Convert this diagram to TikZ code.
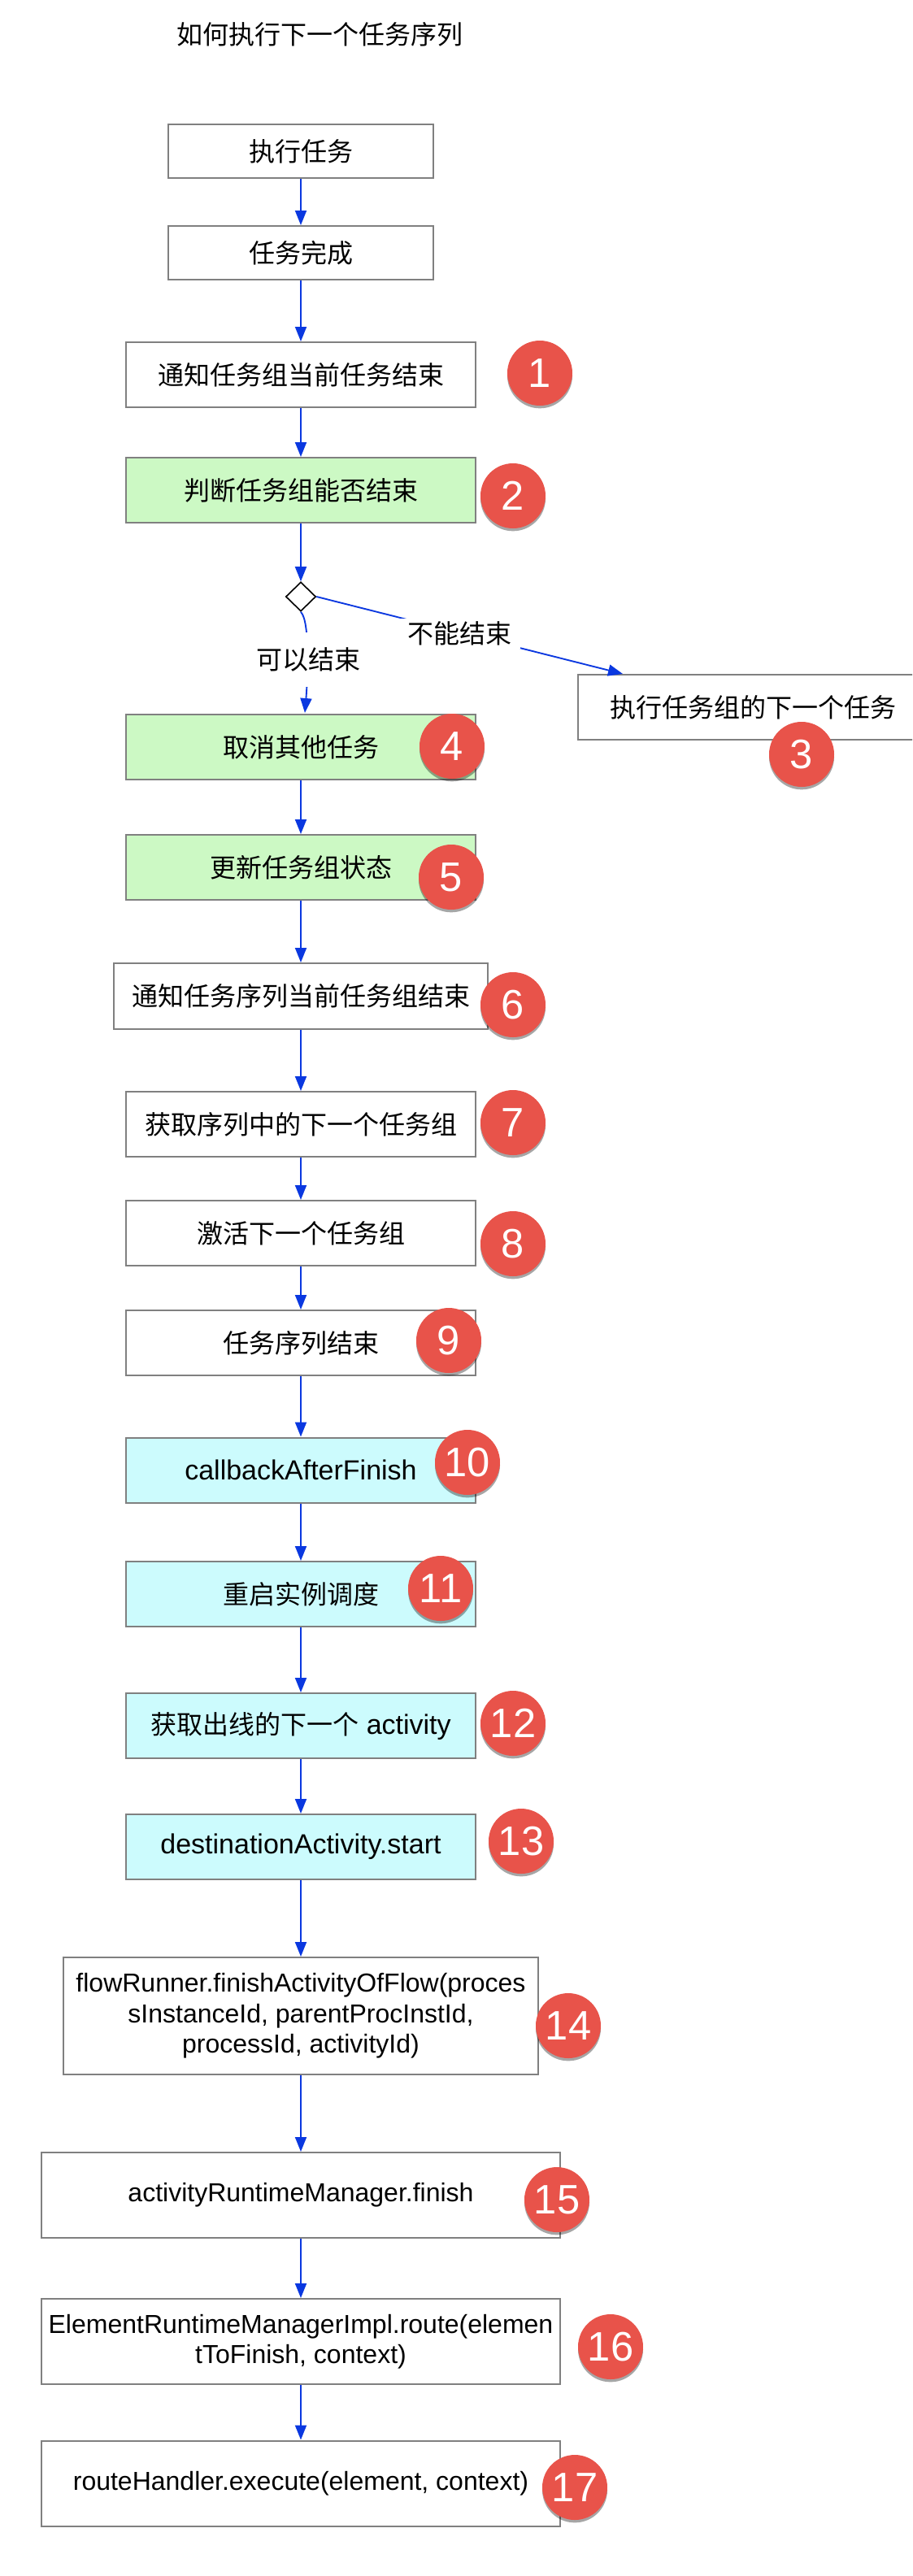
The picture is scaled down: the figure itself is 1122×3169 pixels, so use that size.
\documentclass[tikz,border=0pt]{standalone}
\usepackage{fontspec}
\usepackage{color}
\usepackage{tikz}
\usetikzlibrary{arrows.meta,shapes.geometric,shadows}
\setmainfont{Liberation Sans}
\newfontfamily\cjk{Noto Sans CJK SC}
\def\px{0.75pt}
\definecolor{boxgray}{HTML}{808080}
\definecolor{flowblue}{HTML}{0A38E0}
\definecolor{badgered}{HTML}{E8534A}
\definecolor{okgreen}{HTML}{CCF9C4}
\definecolor{runcyan}{HTML}{CCFBFD}
\tikzset{
	bodytext/.style={font=\fontsize{24pt}{28.2pt}\selectfont, align=center, inner sep=0pt},
	widetext/.style={font=\fontsize{25.5pt}{28.2pt}\selectfont},
	taskbox/.style 2 args={bodytext, draw=boxgray, line width=1.5pt,
		minimum width=#1*\px, minimum height=#2*\px},
	greenbox/.style={fill=okgreen},
	cyanbox/.style={fill=runcyan},
	flow/.style={draw=flowblue, line width=1.4pt,
		-{Triangle[length=13.5pt,width=10.5pt,fill=flowblue]}},
	gaplabel/.style 2 args={bodytext, fill=white,
		minimum width=#1*\px, minimum height=#2*\px},
	badge/.style={circle, fill=badgered, text=white, inner sep=0pt,
		minimum size=80*\px, font=\fontsize{38pt}{38pt}\selectfont,
		drop shadow={shadow xshift=0pt, shadow yshift=-2.5pt, fill=black, opacity=0.35}}
}

\begin{document}
\begin{tikzpicture}[x=0.75pt,y=-0.75pt]
	\path[use as bounding box, clip] (0,0) rectangle (1122,3169);
	\fill[white] (0,0) rectangle (1122,3169);

	\node (title) at (393,42) [bodytext] {\cjk 如何执行下一个任务序列};

	\node (run) at (370,186) [taskbox={326}{66}] {\cjk 执行任务};
	\node (done) at (370,311) [taskbox={326}{66}] {\cjk 任务完成};
	\node (notify) at (370,461) [taskbox={430}{80}] {\cjk 通知任务组当前任务结束};
	\node (judge) at (370,603) [taskbox={430}{80}, greenbox] {\cjk 判断任务组能否结束};
	\node (gate) at (370,734) [diamond, draw=black, line width=1.2pt, fill=white, inner sep=0pt,
		minimum width=37*\px, minimum height=36*\px] {};
	\node (skip) at (926,870) [taskbox={430}{80}] {\cjk 执行任务组的下一个任务};
	\node (cancel) at (370,919) [taskbox={430}{80}, greenbox] {\cjk 取消其他任务};
	\node (update) at (370,1067) [taskbox={430}{80}, greenbox] {\cjk 更新任务组状态};
	\node (notifyseq) at (370,1225.5) [taskbox={460}{81}] {\cjk 通知任务序列当前任务组结束};
	\node (nextgroup) at (370,1383) [taskbox={430}{80}] {\cjk 获取序列中的下一个任务组};
	\node (activate) at (370,1517) [taskbox={430}{80}] {\cjk 激活下一个任务组};
	\node (seqend) at (370,1652) [taskbox={430}{80}] {\cjk 任务序列结束};
	\node (callback) at (370,1808.5) [taskbox={430}{80}, cyanbox, widetext] {callbackAfterFinish};
	\node (restart) at (370,1961) [taskbox={430}{80}, cyanbox] {\cjk 重启实例调度};
	\node (nextact) at (370,2123) [taskbox={430}{80}, cyanbox, widetext]
		{{\fontsize{24pt}{28.2pt}\selectfont\cjk 获取出线的下一个} activity};
	\node (deststart) at (370,2272) [taskbox={430}{80}, cyanbox, widetext] {destinationActivity.start};
	\node (flowfinish) at (370,2480) [taskbox={584}{144}]
		{flowRunner.finishActivityOfFlow(proces\\sInstanceId, parentProcInstId,\\processId, activityId)};
	\node (rtfinish) at (370,2700.5) [taskbox={638}{105}] {activityRuntimeManager.finish};
	\node (route) at (370,2880.5) [taskbox={638}{105}] {ElementRuntimeManagerImpl.route(elemen\\tToFinish, context)};
	\node (execute) at (370,3055) [taskbox={638}{105}] {routeHandler.execute(element, context)};

	\coordinate (skipin) at (766,829);
	\coordinate (cancelin) at (375,877);

	\draw[flow] (run) -- (done);
	\draw[flow] (done) -- (notify);
	\draw[flow] (notify) -- (judge);
	\draw[flow] (judge) -- (gate);
	\draw[flow] (gate.east) -- (skipin);
	\draw[flow] (gate.south) .. controls (382,765) and (378,840) .. (cancelin);
	\draw[flow] (cancel) -- (update);
	\draw[flow] (update) -- (notifyseq);
	\draw[flow] (notifyseq) -- (nextgroup);
	\draw[flow] (nextgroup) -- (activate);
	\draw[flow] (activate) -- (seqend);
	\draw[flow] (seqend) -- (callback);
	\draw[flow] (callback) -- (restart);
	\draw[flow] (restart) -- (nextact);
	\draw[flow] (nextact) -- (deststart);
	\draw[flow] (deststart) -- (flowfinish);
	\draw[flow] (flowfinish) -- (rtfinish);
	\draw[flow] (rtfinish) -- (route);
	\draw[flow] (route) -- (execute);

	\node (cannot) at (565,779) [gaplabel={149}{37}] {\cjk 不能结束};
	\node (can) at (379,811) [gaplabel={130}{67}] {\cjk 可以结束};

	\node (badge1) at (664,459) [badge] {1};
	\node (badge2) at (631,610) [badge] {2};
	\node (badge3) at (986,928) [badge] {3};
	\node (badge4) at (556,918) [badge] {4};
	\node (badge5) at (555,1079) [badge] {5};
	\node (badge6) at (631,1236) [badge] {6};
	\node (badge7) at (631,1381) [badge] {7};
	\node (badge8) at (631,1530) [badge] {8};
	\node (badge9) at (552,1649) [badge] {9};
	\node (badge10) at (575,1799) [badge] {10};
	\node (badge11) at (542,1954) [badge] {11};
	\node (badge12) at (631,2120) [badge] {12};
	\node (badge13) at (641,2265) [badge] {13};
	\node (badge14) at (699,2492) [badge] {14};
	\node (badge15) at (685,2706) [badge] {15};
	\node (badge16) at (751,2887) [badge] {16};
	\node (badge17) at (707,3060) [badge] {17};
\end{tikzpicture}
\end{document}
